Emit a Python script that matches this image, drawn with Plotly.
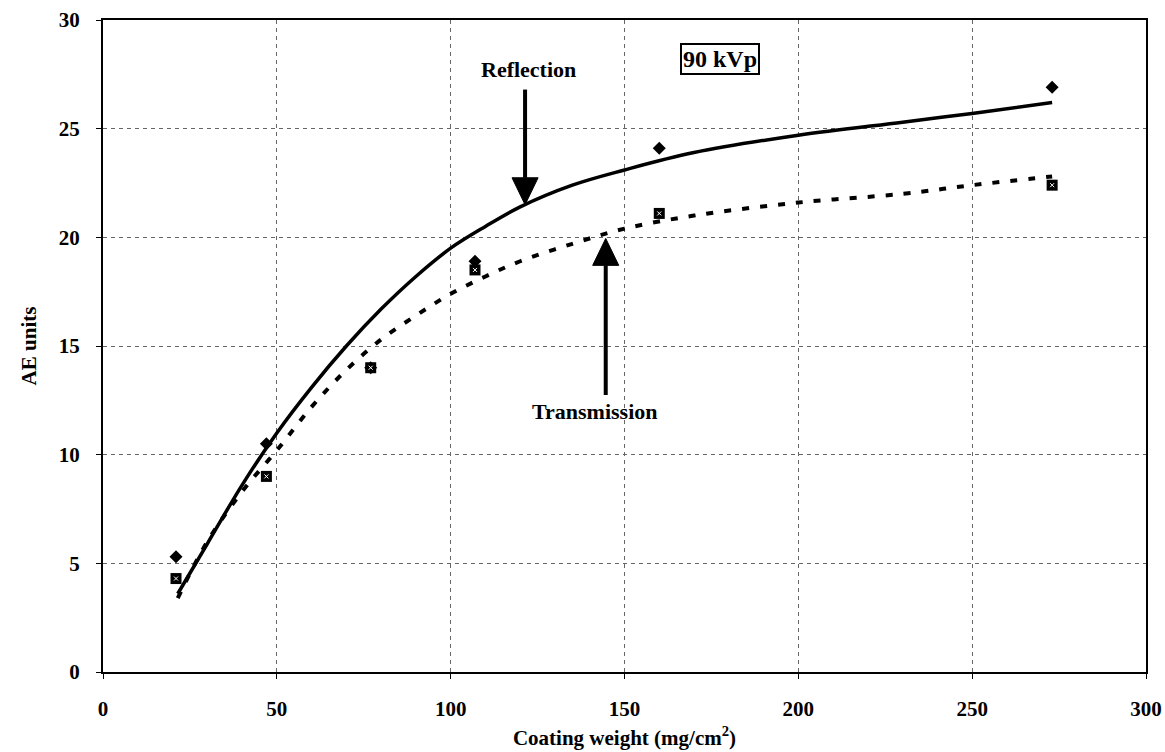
import plotly.graph_objects as go

# Measured data points
coating_weight = [21, 47, 77, 107, 160, 273]
reflection = [5.3, 10.5, 14.0, 18.9, 24.1, 26.9]
transmission = [4.3, 9.0, 14.0, 18.5, 21.1, 22.4]

# Trend curves
fit_x = [21.5, 30, 40, 50, 60, 70, 80, 90, 100, 110, 120, 135, 150, 170, 200, 230, 250, 273]
fit_reflection = [3.6, 5.9, 8.6, 11.0, 13.1, 15.0, 16.7, 18.2, 19.5, 20.5, 21.4, 22.4, 23.1, 23.9, 24.7, 25.3, 25.7, 26.2]
fit_transmission = [3.4, 6.0, 8.3, 10.2, 12.2, 13.9, 15.3, 16.4, 17.4, 18.2, 18.9, 19.7, 20.4, 21.0, 21.6, 22.0, 22.4, 22.8]

x_ticks = [0, 50, 100, 150, 200, 250, 300]
y_ticks = [0, 5, 10, 15, 20, 25, 30]

FONT = "Liberation Serif"

fig = go.Figure()

fig.add_trace(go.Scatter(x=fit_x, y=fit_reflection, mode="lines",
                         line=dict(color="black", width=3.5, shape="spline"),
                         showlegend=False, hoverinfo="skip"))
fig.add_trace(go.Scatter(x=fit_x, y=fit_transmission, mode="lines",
                         line=dict(color="black", width=4, dash="7px,11px", shape="spline"),
                         showlegend=False, hoverinfo="skip"))

fig.add_trace(go.Scatter(x=coating_weight, y=reflection, mode="markers",
                         marker=dict(symbol="diamond", size=10, color="black"),
                         showlegend=False))
fig.add_trace(go.Scatter(x=coating_weight, y=transmission, mode="markers",
                         marker=dict(symbol="square", size=11, color="black"),
                         showlegend=False))
fig.add_trace(go.Scatter(x=coating_weight, y=transmission, mode="markers",
                         marker=dict(symbol="x-thin-open", size=4, color="white",
                                     line=dict(color="white", width=1)),
                         showlegend=False, hoverinfo="skip"))


def arrow(x, tip, tail, head_len=1.24, head_half=3.75):
    d = 1 if tail > tip else -1
    base = tip + d * head_len
    fig.add_shape(type="line", xref="x", yref="y", x0=x, x1=x, y0=base, y1=tail,
                  line=dict(color="black", width=4))
    fig.add_shape(type="path", xref="x", yref="y",
                  path=f"M {x - head_half},{base} L {x + head_half},{base} L {x},{tip} Z",
                  fillcolor="black", line=dict(color="black", width=1))


arrow(121.4, 21.5, 26.8)
arrow(144.6, 19.95, 12.75)

fig.add_annotation(x=122.5, y=27.7, xref="x", yref="y", text="<b>Reflection</b>",
                   showarrow=False, font=dict(family=FONT, size=22, color="black"))
fig.add_annotation(x=141.5, y=12.0, xref="x", yref="y", text="<b>Transmission</b>",
                   showarrow=False, font=dict(family=FONT, size=22, color="black"))
fig.add_annotation(x=177.5, y=28.2, xref="x", yref="y", text="<b>90 kVp</b>",
                   showarrow=False, font=dict(family=FONT, size=24, color="black"),
                   bordercolor="black", borderwidth=2, borderpad=1, bgcolor="white")

axis_common = dict(
    showline=True, linecolor="black", linewidth=2, mirror=True,
    showgrid=True, gridcolor="#666666", griddash="4px,4px", gridwidth=1,
    ticks="outside", ticklen=5, tickcolor="black",
    tickfont=dict(family=FONT, size=21, color="black"),
    zeroline=False, automargin=False,
)

fig.update_xaxes(range=[0, 300], tickvals=x_ticks, ticktext=[f"<b>{v}</b>" for v in x_ticks],
                 ticklabelstandoff=12,
                 title=dict(text="<b>Coating weight (mg/cm<sup>2</sup>)</b>",
                            font=dict(family=FONT, size=21, color="black"), standoff=10),
                 **axis_common)
fig.update_yaxes(range=[0, 30], tickvals=y_ticks, ticktext=[f"<b>{v}</b>" for v in y_ticks],
                 ticklabelstandoff=12,
                 title=dict(text="<b>AE units</b>",
                            font=dict(family=FONT, size=21, color="black"), standoff=16),
                 **axis_common)

fig.update_layout(
    width=1165, height=752,
    margin=dict(l=103, r=19, t=20, b=80),
    plot_bgcolor="white", paper_bgcolor="white",
    showlegend=False,
)

fig.write_html("out.html")
